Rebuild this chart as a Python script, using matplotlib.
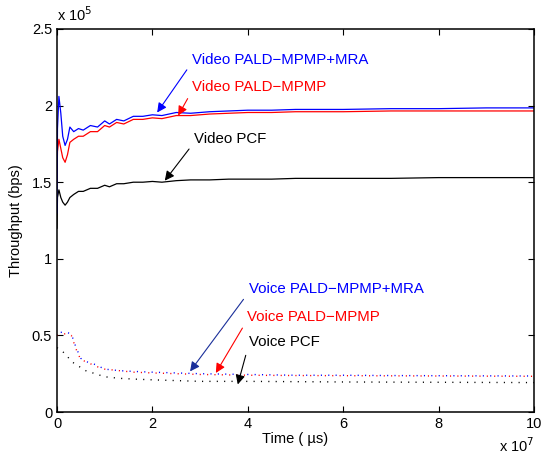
import matplotlib.pyplot as plt
import numpy as np

plt.rcParams['font.family'] = ['Liberation Sans', 'DejaVu Sans']

# time in units of 1e7 us, throughput in units of 1e5 bps
t_vid = [0, 0.01, 0.04, 0.08, 0.12, 0.17, 0.22, 0.27, 0.35, 0.45, 0.55, 0.7, 0.85,
         1.0, 1.1, 1.25, 1.4, 1.6, 1.8, 2.0, 2.2, 2.5, 2.8, 3.2, 3.6, 4.0, 4.5,
         5.0, 6.0, 7.0, 8.0, 9.0, 10.0]
vid_mra = [1.30, 1.85, 2.06, 1.95, 1.80, 1.74, 1.78, 1.86, 1.83, 1.85, 1.84, 1.87, 1.86,
           1.90, 1.88, 1.91, 1.90, 1.93, 1.93, 1.94, 1.935, 1.955, 1.95, 1.96, 1.965, 1.97, 1.97,
           1.975, 1.975, 1.98, 1.98, 1.985, 1.985]
vid_mpmp = [1.50, 1.70, 1.78, 1.72, 1.66, 1.63, 1.68, 1.76, 1.78, 1.80, 1.80, 1.83, 1.83,
            1.87, 1.86, 1.89, 1.88, 1.91, 1.91, 1.92, 1.915, 1.935, 1.935, 1.945, 1.95, 1.955, 1.955,
            1.96, 1.96, 1.965, 1.965, 1.965, 1.965]
vid_pcf = [1.20, 1.40, 1.45, 1.40, 1.37, 1.35, 1.37, 1.40, 1.42, 1.44, 1.44, 1.46, 1.46,
           1.48, 1.47, 1.49, 1.49, 1.50, 1.50, 1.505, 1.50, 1.51, 1.515, 1.515, 1.52, 1.52, 1.52,
           1.525, 1.525, 1.525, 1.53, 1.53, 1.53]

t_voc = [0, 0.1, 0.2, 0.3, 0.4, 0.5, 0.6, 0.8, 1.0, 1.3, 1.6, 2.0, 2.5, 3.0, 4.0,
         5.0, 6.0, 7.0, 8.0, 9.0, 10.0]
voc_mra = [0.52, 0.52, 0.52, 0.51, 0.42, 0.35, 0.33, 0.31, 0.28, 0.27, 0.265, 0.26, 0.255, 0.25, 0.245,
           0.24, 0.24, 0.238, 0.237, 0.236, 0.235]
voc_mpmp = [0.50, 0.51, 0.51, 0.50, 0.41, 0.34, 0.33, 0.30, 0.28, 0.27, 0.26, 0.255, 0.25, 0.245, 0.24,
            0.238, 0.237, 0.236, 0.235, 0.234, 0.233]
voc_pcf = [0.42, 0.40, 0.37, 0.33, 0.31, 0.29, 0.27, 0.25, 0.23, 0.22, 0.215, 0.21, 0.205, 0.20, 0.20,
           0.198, 0.196, 0.195, 0.194, 0.193, 0.192]

fig = plt.figure(figsize=(5.42, 4.57), dpi=100)
ax = fig.add_axes([57/542, 1-412/457, (534-57)/542, (412-29)/457])

ax.plot(t_vid, vid_pcf, color='black', lw=0.9)
ax.plot(t_vid, vid_mpmp, color='red', lw=0.9)
ax.plot(t_vid, vid_mra, color='blue', lw=0.9)
ax.plot(t_voc, voc_pcf, color='black', lw=1, linestyle=(0, (0.8, 4.5)))
ax.plot(t_voc, voc_mpmp, color='red', lw=1, linestyle=(0, (0.8, 4.5)))
ax.plot(t_voc, voc_mra, color='blue', lw=1, linestyle=(2.6, (0.8, 4.5)))

ax.set_xlim(0, 10)
ax.set_ylim(0, 2.5)
ax.set_xticks([0, 2, 4, 6, 8, 10])
ax.set_xticklabels(['0', '2', '4', '6', '8', '10'])
ax.set_yticks([0, 0.5, 1, 1.5, 2, 2.5])
ax.set_yticklabels(['0', '0.5', '1', '1.5', '2', '2.5'])
ax.tick_params(direction='in', top=True, right=True, labelsize=10.5, length=4, width=0.8)
for s in ax.spines.values():
    s.set_linewidth(1.1)

ax.set_xlabel('Time ( \u00b5s)', fontsize=10.5, labelpad=1)
ax.set_ylabel('Throughput (bps)', fontsize=10.5, labelpad=6)
ax.text(0, 1.012, 'x 10$^5$', transform=ax.transAxes, fontsize=10.5, va='bottom', ha='left')
ax.text(1.0, -0.105, 'x 10$^7$', transform=ax.transAxes, fontsize=10.5, va='baseline', ha='right')

notes = [
    ('Video PALD\u2212MPMP+MRA', 'blue', 'blue', (2.1, 1.955), (2.83, 2.30)),
    ('Video PALD\u2212MPMP', 'red', 'red', (2.54, 1.935), (2.84, 2.12)),
    ('Video PCF', 'black', 'black', (2.26, 1.51), (2.88, 1.78)),
    ('Voice PALD\u2212MPMP+MRA', 'blue', '#1a2f9a', (2.79, 0.265), (4.02, 0.80)),
    ('Voice PALD\u2212MPMP', 'red', 'red', (3.33, 0.255), (3.99, 0.62)),
    ('Voice PCF', 'black', 'black', (3.79, 0.18), (4.02, 0.46)),
]
for label, tcol, acol, tip, pos in notes:
    ax.annotate(label, xy=tip, xytext=pos, color=tcol, fontsize=10.8,
                ha='left', va='center',
                arrowprops=dict(arrowstyle='-|>', color=acol, lw=0.8,
                                mutation_scale=14, shrinkA=3, shrinkB=0,
                                relpos=(0, 0.3)))

fig.savefig('out.png', dpi=100)
